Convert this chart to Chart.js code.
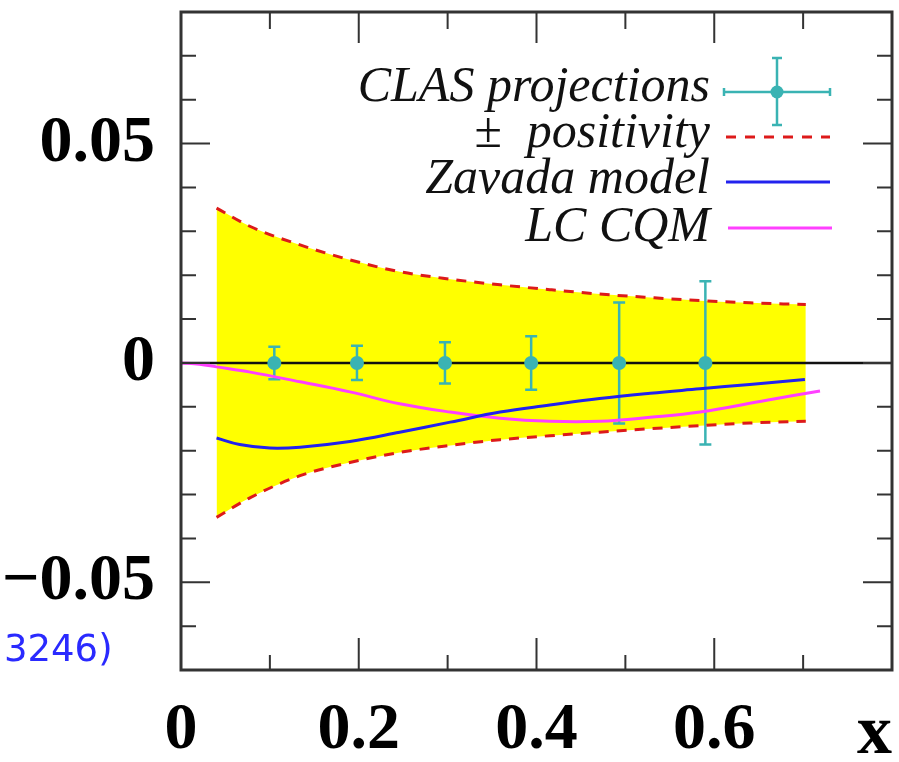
<!DOCTYPE html>
<html>
<head>
<meta charset="utf-8">
<script src="https://cdn.jsdelivr.net/npm/chart.js@4.4.0/dist/chart.umd.min.js"></script>
<style>
  html, body { margin: 0; padding: 0; background: #fff; }
  #wrap { position: relative; width: 899px; height: 762px; }
</style>
</head>
<body>
<div id="wrap"><canvas id="chart" width="899" height="762"></canvas></div>
<script>
// positivity band (upper / lower dashed bounds)
const bandX     = [0.04, 0.078, 0.134, 0.19, 0.246, 0.303, 0.359, 0.415, 0.471, 0.528, 0.584, 0.64, 0.703];
const bandUpper = [0.0353, 0.0311, 0.0269, 0.0235, 0.0208, 0.0191, 0.0178, 0.0167, 0.0157, 0.0149, 0.0142, 0.0137, 0.0133];
const bandLower = [-0.0352, -0.0307, -0.0257, -0.0227, -0.0204, -0.0188, -0.0175, -0.0166, -0.0158, -0.0150, -0.0143, -0.0137, -0.0133];

// Zavada model
const zavadaX = [0.04, 0.066, 0.1, 0.134, 0.19, 0.246, 0.303, 0.359, 0.415, 0.471, 0.528, 0.584, 0.64, 0.702];
const zavadaY = [-0.0171, -0.0186, -0.0194, -0.0192, -0.0179, -0.0158, -0.0135, -0.0112, -0.0096, -0.0081, -0.0069, -0.0059, -0.0049, -0.0038];

// LC CQM
const lcX = [0, 0.021, 0.04, 0.078, 0.134, 0.19, 0.246, 0.303, 0.359, 0.415, 0.471, 0.528, 0.584, 0.659, 0.719];
const lcY = [0, -0.0003, -0.0009, -0.0021, -0.0043, -0.0066, -0.0093, -0.0112, -0.0126, -0.0133, -0.0133, -0.0124, -0.0112, -0.0085, -0.0064];

// CLAS projections
const clasX   = [0.105, 0.198, 0.297, 0.394, 0.493, 0.59];
const clasY   = [0, 0, 0, 0, 0, 0];
const clasErr = [0.0037, 0.0039, 0.0047, 0.0061, 0.0138, 0.0186];

// axes
const xLabelTicks = [0, 0.2, 0.4, 0.6];
const xMajorTicks = [0.2, 0.4, 0.6];
const xMinorTicks = [0.1, 0.3, 0.5, 0.7];
const yLabelTicks = [-0.05, 0, 0.05];
const yMinorTicks = [-0.07, -0.06, -0.04, -0.03, -0.02, -0.01, 0.01, 0.02, 0.03, 0.04, 0.06, 0.07];

const legendLabels = ['CLAS projections', '\u00B1  positivity', 'Zavada model', 'LC CQM'];

const TEAL = '#3ab3b3';
const RED = '#dd1a1a';
const BLUE = '#2222ee';
const PINK = '#ff40ff';

function pts(xs, ys) {
  return xs.map((x, i) => ({x: x, y: ys[i]}));
}

const zeroLine = {
  id: 'zeroLine',
  beforeDatasetsDraw(chart) {
    const {ctx, chartArea, scales} = chart;
    const y = scales.y.getPixelForValue(0);
    ctx.save();
    ctx.strokeStyle = '#111';
    ctx.lineWidth = 2.5;
    ctx.beginPath();
    ctx.moveTo(chartArea.left, y);
    ctx.lineTo(chartArea.right, y);
    ctx.stroke();
    ctx.restore();
  }
};

const errorBars = {
  id: 'errorBars',
  beforeDatasetDraw(chart, args) {
    if (args.index !== 4) return;
    const {ctx, scales} = chart;
    ctx.save();
    ctx.strokeStyle = TEAL;
    ctx.lineWidth = 2.5;
    clasX.forEach((x, i) => {
      const px = scales.x.getPixelForValue(x);
      const top = scales.y.getPixelForValue(clasY[i] + clasErr[i]);
      const bot = scales.y.getPixelForValue(clasY[i] - clasErr[i]);
      ctx.beginPath();
      ctx.moveTo(px, top); ctx.lineTo(px, bot);
      ctx.moveTo(px - 6, top); ctx.lineTo(px + 6, top);
      ctx.moveTo(px - 6, bot); ctx.lineTo(px + 6, bot);
      ctx.stroke();
    });
    ctx.restore();
  }
};

const frame = {
  id: 'frame',
  afterDraw(chart) {
    const {ctx, chartArea: a, scales} = chart;
    ctx.save();
    ctx.strokeStyle = '#333';
    // tick marks, inward on all four sides
    ctx.lineWidth = 2;
    ctx.beginPath();
    xMajorTicks.forEach(v => {
      const px = scales.x.getPixelForValue(v);
      ctx.moveTo(px, a.bottom); ctx.lineTo(px, a.bottom - 32);
      ctx.moveTo(px, a.top); ctx.lineTo(px, a.top + 31);
    });
    xMinorTicks.forEach(v => {
      const px = scales.x.getPixelForValue(v);
      ctx.moveTo(px, a.bottom); ctx.lineTo(px, a.bottom - 15);
      ctx.moveTo(px, a.top); ctx.lineTo(px, a.top + 17);
    });
    yLabelTicks.forEach(v => {
      const py = scales.y.getPixelForValue(v);
      ctx.moveTo(a.left, py); ctx.lineTo(a.left + 29, py);
      ctx.moveTo(a.right, py); ctx.lineTo(a.right - 29, py);
    });
    yMinorTicks.forEach(v => {
      const py = scales.y.getPixelForValue(v);
      ctx.moveTo(a.left, py); ctx.lineTo(a.left + 15, py);
      ctx.moveTo(a.right, py); ctx.lineTo(a.right - 15, py);
    });
    ctx.stroke();
    ctx.lineWidth = 3;
    ctx.strokeRect(a.left, a.top, a.right - a.left, a.bottom - a.top);

    // axis name at the right end of the x axis
    ctx.fillStyle = '#000';
    ctx.font = 'bold 70px "Liberation Serif"';
    ctx.textAlign = 'right';
    ctx.textBaseline = 'alphabetic';
    ctx.fillText('x', a.right, 753);

    // cropped caption fragment
    ctx.fillStyle = '#2a2aff';
    ctx.font = '37px "DejaVu Sans"';
    ctx.textAlign = 'left';
    ctx.fillText('3246)', 4, 661);

    // legend
    ctx.fillStyle = '#111';
    ctx.font = 'italic 50px "Liberation Serif"';
    ctx.textAlign = 'right';
    const baselines = [101, 147, 193, 241];
    const marks = [92, 137, 182, 228];
    legendLabels.forEach((t, i) => ctx.fillText(t, 710, baselines[i]));

    const lx0 = 726, lx1 = 830, cx = 777;
    ctx.strokeStyle = TEAL;
    ctx.lineWidth = 2.5;
    ctx.beginPath();
    ctx.moveTo(lx0 - 2, marks[0]); ctx.lineTo(lx1, marks[0]);
    ctx.moveTo(lx0 - 2, marks[0] - 4); ctx.lineTo(lx0 - 2, marks[0] + 4);
    ctx.moveTo(lx1, marks[0] - 4); ctx.lineTo(lx1, marks[0] + 4);
    ctx.moveTo(cx, 58); ctx.lineTo(cx, 125);
    ctx.moveTo(cx - 5, 58); ctx.lineTo(cx + 5, 58);
    ctx.moveTo(cx - 5, 125); ctx.lineTo(cx + 5, 125);
    ctx.stroke();
    ctx.fillStyle = TEAL;
    ctx.beginPath();
    ctx.arc(cx, marks[0], 6.5, 0, Math.PI * 2);
    ctx.fill();

    ctx.lineWidth = 3;
    ctx.strokeStyle = RED;
    ctx.setLineDash([10, 9]);
    ctx.beginPath();
    ctx.moveTo(lx0, marks[1]); ctx.lineTo(lx1, marks[1]);
    ctx.stroke();
    ctx.setLineDash([]);
    ctx.strokeStyle = BLUE;
    ctx.beginPath();
    ctx.moveTo(lx0, marks[2]); ctx.lineTo(lx1, marks[2]);
    ctx.stroke();
    ctx.strokeStyle = PINK;
    ctx.beginPath();
    ctx.moveTo(lx0 + 2, marks[3]); ctx.lineTo(lx1 + 2, marks[3]);
    ctx.stroke();
    ctx.restore();
  }
};

const tickFont = {family: '"Liberation Serif"', size: 66, weight: 'bold', lineHeight: 1};

new Chart(document.getElementById('chart'), {
  type: 'scatter',
  plugins: [zeroLine, errorBars, frame],
  data: {
    datasets: [{
      data: pts(bandX, bandUpper),
      showLine: true,
      borderColor: RED,
      borderWidth: 3,
      borderDash: [10, 8],
      backgroundColor: '#ffff00',
      fill: '+1',
      pointRadius: 0,
      cubicInterpolationMode: 'monotone'
    }, {
      data: pts(bandX, bandLower),
      showLine: true,
      borderColor: RED,
      borderWidth: 3,
      borderDash: [10, 8],
      fill: false,
      pointRadius: 0,
      cubicInterpolationMode: 'monotone'
    }, {
      data: pts(zavadaX, zavadaY),
      showLine: true,
      borderColor: BLUE,
      borderWidth: 3,
      fill: false,
      pointRadius: 0,
      tension: 0.4
    }, {
      data: pts(lcX, lcY),
      showLine: true,
      borderColor: PINK,
      borderWidth: 3,
      fill: false,
      pointRadius: 0,
      tension: 0.4
    }, {
      data: pts(clasX, clasY),
      showLine: false,
      pointRadius: 7,
      pointBackgroundColor: TEAL,
      pointBorderWidth: 0
    }]
  },
  options: {
    responsive: false,
    animation: false,
    events: [],
    layout: {padding: {top: 12, right: 3, left: 0, bottom: 0}},
    plugins: {
      legend: {display: false},
      tooltip: {enabled: false},
      filler: {drawTime: 'beforeDatasetsDraw'}
    },
    scales: {
      x: {
        type: 'linear',
        min: 0,
        max: 0.8,
        grid: {display: false, drawTicks: false},
        border: {display: false},
        afterBuildTicks: s => { s.ticks = xLabelTicks.map(v => ({value: v})); },
        afterFit: s => { s.height = 92; s.paddingLeft = 0; s.paddingRight = 0; },
        ticks: {
          font: tickFont,
          color: '#000',
          padding: 28,
          maxRotation: 0,
          callback: v => v === 0 ? '0' : v.toFixed(1)
        }
      },
      y: {
        type: 'linear',
        min: -0.07,
        max: 0.08,
        grid: {display: false, drawTicks: false},
        border: {display: false},
        afterBuildTicks: s => { s.ticks = yLabelTicks.map(v => ({value: v})); },
        afterFit: s => { s.width = 181; s.paddingTop = 0; s.paddingBottom = 0; },
        ticks: {
          font: tickFont,
          color: '#000',
          padding: 26,
          callback: v => v === 0 ? '0' : (v < 0 ? '\u2212' : '') + Math.abs(v).toFixed(2)
        }
      }
    }
  }
});
</script>
</body>
</html>
